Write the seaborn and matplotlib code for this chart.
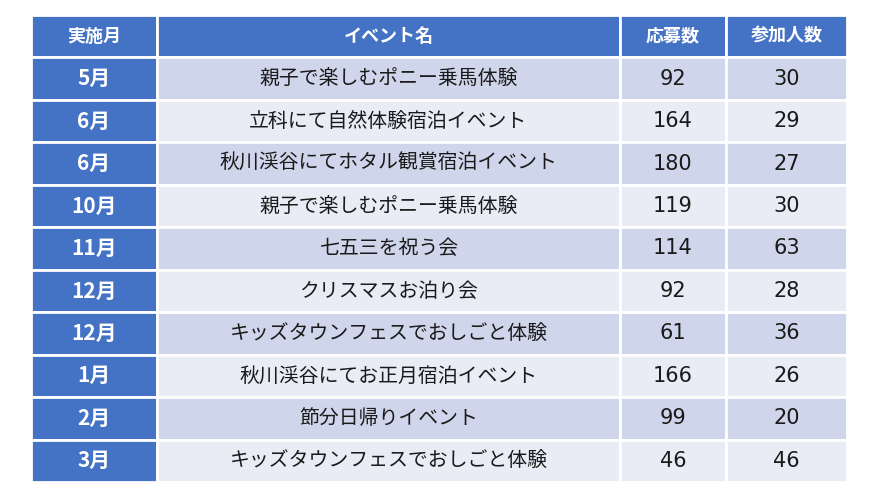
import matplotlib
matplotlib.use("Agg")
import matplotlib.pyplot as plt
import seaborn as sns

# Table contents
headers = ["実施月", "イベント名", "応募数", "参加人数"]
months = ["5月", "6月", "6月", "10月", "11月", "12月", "12月", "1月", "2月", "3月"]
events = [
    "親子で楽しむポニー乗馬体験",
    "立科にて自然体験宿泊イベント",
    "秋川渓谷にてホタル観賞宿泊イベント",
    "親子で楽しむポニー乗馬体験",
    "七五三を祝う会",
    "クリスマスお泊り会",
    "キッズタウンフェスでおしごと体験",
    "秋川渓谷にてお正月宿泊イベント",
    "節分日帰りイベント",
    "キッズタウンフェスでおしごと体験",
]
applicants = [92, 164, 180, 119, 114, 92, 61, 166, 99, 46]
participants = [30, 29, 27, 30, 63, 28, 36, 26, 20, 46]

sns.set_theme(style="white")
plt.rcParams["font.family"] = ["Noto Sans CJK JP", "DejaVu Sans"]

BLUE = "#4472C4"
ROW_DARK = "#CFD5EA"
ROW_LIGHT = "#E9EBF5"

W, H = 870, 498
fig = plt.figure(figsize=(W / 100, H / 100), dpi=100)
ax = fig.add_axes([0, 0, 1, 1])
ax.axis("off")

rows = [[m, e, str(a), str(p)] for m, e, a, p in zip(months, events, applicants, participants)]
col_px = [126, 463, 106, 121]
total = sum(col_px)

left, right, top, bottom = 31, 847, 15, 482
tbl = ax.table(
    cellText=rows,
    colLabels=headers,
    colWidths=[c / total for c in col_px],
    cellLoc="center",
    bbox=[left / W, (H - bottom) / H, (right - left) / W, (bottom - top) / H],
)
tbl.auto_set_font_size(False)

for (r, c), cell in tbl.get_celld().items():
    cell.set_edgecolor("white")
    cell.set_linewidth(2)
    txt = cell.get_text()
    if r == 0:
        cell.set_facecolor(BLUE)
        txt.set_color("white")
        txt.set_fontweight("bold")
        txt.set_fontsize(13)
    elif c == 0:
        cell.set_facecolor(BLUE)
        txt.set_color("white")
        txt.set_fontweight("bold")
        txt.set_fontsize(15)
    else:
        cell.set_facecolor(ROW_DARK if r % 2 == 1 else ROW_LIGHT)
        txt.set_color("#1a1a1a")
        if c >= 2:
            # numbers use a wider face, closer to the original
            txt.set_family(["DejaVu Sans"])
            txt.set_fontsize(15)
        else:
            txt.set_fontsize(14.3)

fig.savefig("out.png", dpi=100, facecolor="white")
